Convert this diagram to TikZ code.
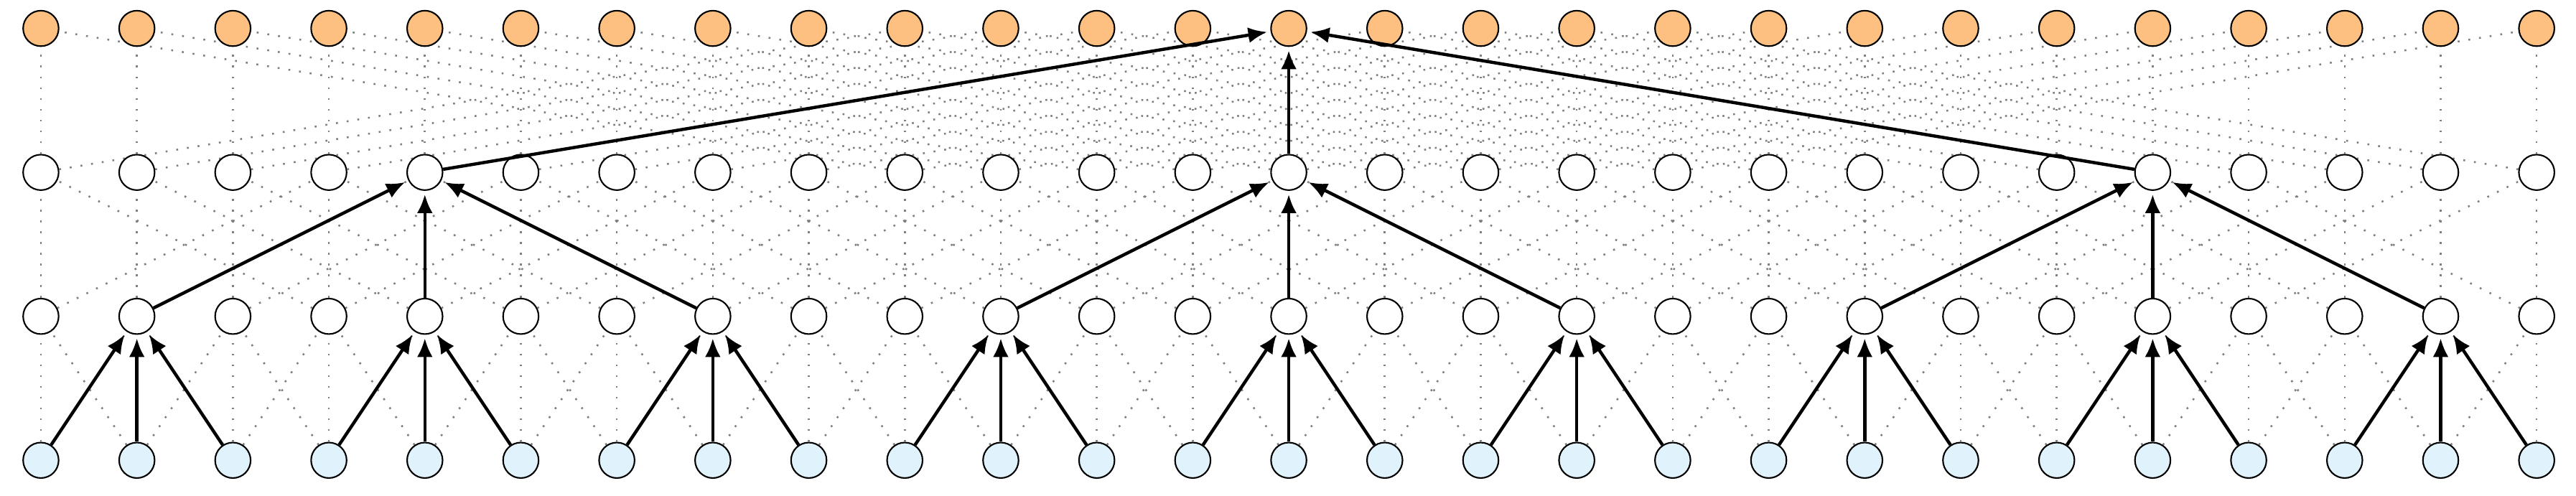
\documentclass[tikz,border=0pt]{standalone}
\usepackage{tikz}
\usetikzlibrary{arrows.meta, backgrounds}
\definecolor{outorange}{RGB}{253,192,128}
\definecolor{inblue}{RGB}{224,242,252}
\tikzstyle{unit} = [circle, minimum size=0.37cm, inner sep=0pt, draw=black, line width=0.45pt]
\tikzstyle{inunit} = [unit, fill=inblue]
\tikzstyle{hidunit} = [unit, fill=white]
\tikzstyle{outunit} = [unit, fill=outorange]
\tikzstyle{dilated} = [gray, line width=0.55pt, dash pattern=on 0.55pt off 2.65pt]
\tikzstyle{receptive} = [black, line width=0.95pt, shorten >=1pt, -{Latex[length=5.6pt, width=4.7pt]}]

\begin{document}
\begin{tikzpicture}
    \useasboundingbox (-0.426,-0.365) rectangle (26.41,4.796);
    % Units
    \foreach \i in {0,...,26} {
        \node (input_\i) [inunit] at (\i,0) {};
        \node (hidden1_\i) [hidunit] at (\i,1.5) {};
        \node (hidden2_\i) [hidunit] at (\i,3) {};
        \node (output_\i) [outunit] at (\i,4.5) {};
    }

    % Dilated connections
    \begin{scope}[on background layer]
    \foreach \lo/\hi/\d in {input/hidden1/1, hidden1/hidden2/3, hidden2/output/9} {
        \foreach \i in {0,...,26} {
            \foreach \s in {-1,0,1} {
                \pgfmathtruncatemacro{\j}{\i+\s*\d}
                \ifnum\j>-1 \ifnum\j<27
                    \draw [dilated] (\lo_\j) -- (\hi_\i);
                \fi\fi
            }
        }
    }
    \end{scope}

    % Receptive field of the middle output
    \foreach \c in {1,4,...,25} {
        \foreach \s in {-1,0,1} {
            \pgfmathtruncatemacro{\j}{\c+\s}
            \draw [receptive] (input_\j) -- (hidden1_\c);
        }
    }
    \foreach \c in {4,13,22} {
        \foreach \s in {-1,0,1} {
            \pgfmathtruncatemacro{\j}{\c+3*\s}
            \draw [receptive] (hidden1_\j) -- (hidden2_\c);
        }
    }
    \foreach \s in {-1,0,1} {
        \pgfmathtruncatemacro{\j}{13+9*\s}
        \draw [receptive] (hidden2_\j) -- (output_13);
    }
\end{tikzpicture}
\end{document}
